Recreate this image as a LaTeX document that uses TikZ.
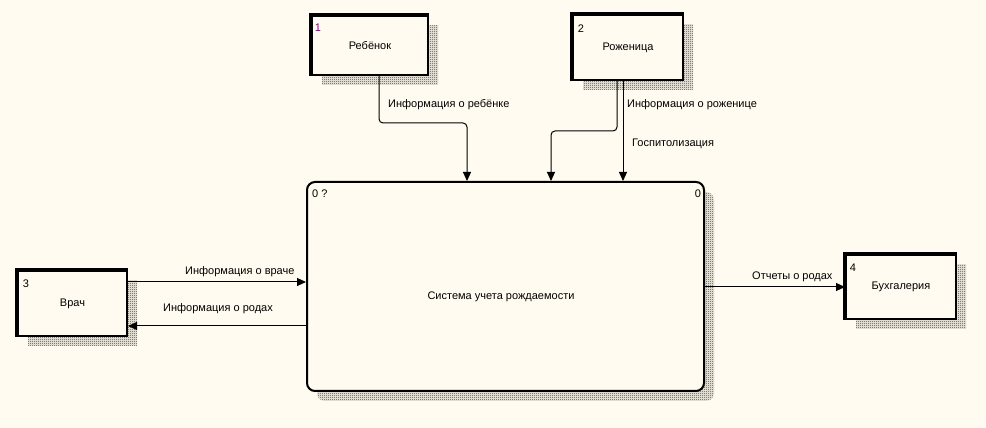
\documentclass[tikz,border=0pt]{standalone}
\usepackage{fontspec}
\setmainfont{Liberation Sans}
\usetikzlibrary{arrows.meta,shadows,patterns.meta}
\definecolor{paper}{RGB}{255,251,240}
\definecolor{numviolet}{RGB}{128,0,128}
\tikzdeclarepattern{name=dither, type=uncolored, bounding box={(0,0) and (2pt,2pt)},
  tile size={(2pt,2pt)}, code={\fill (0,0) rectangle (1pt,1pt); \fill (1pt,1pt) rectangle (2pt,2pt);}}
\tikzset{hatchshadow/.style={drop shadow={shadow xshift=10pt, shadow yshift=-10pt, fill=paper, opacity=1,
      pattern=dither, pattern color=black}},
  entity/.style={draw, line width=2pt, fill=paper, inner sep=0pt, font=\fontsize{11}{13}\selectfont, hatchshadow},
  process/.style={draw, line width=2pt, fill=paper, rounded corners=8pt, inner sep=0pt, hatchshadow},
  flow/.style={line width=1pt, -{Triangle[length=9pt,width=8pt]}},
  lbl/.style={inner sep=0pt, font=\fontsize{11}{13}\selectfont}}

\begin{document}
\begin{tikzpicture}[x=1pt, y=1pt]
  \fill[paper] (0,0) rectangle (986,428);
  \useasboundingbox (0,0) rectangle (986,428);
  % process
  \node [process, minimum width=397pt, minimum height=209pt] (sys) at (505.5,141.5) {};
  \node [lbl] (systitle) at (501,131) {Система учета рождаемости};
  \node [lbl, anchor=west] (sysid) at (312,234) {0 ?};
  \node [lbl] (sysnum) at (698,234) {0};
  % external entities
  \node [entity, minimum width=116pt, minimum height=59pt] (child) at (370,382.5) {Ребёнок};
  \node [entity, minimum width=110pt, minimum height=65pt] (mother) at (628,380.5) {Роженица};
  \node [entity, minimum width=109pt, minimum height=65pt] (doctor) at (72.5,124.5) {Врач};
  \node [entity, minimum width=110pt, minimum height=64pt] (acct) at (901,141) {Бухгалерия};
  \foreach \e in {child, mother, doctor, acct}
    \draw [line width=4pt] (\e.south west) |- (\e.north east);
  \node [lbl, text=numviolet] (childnum) at (318,400) {1};
  \node [lbl] (mothernum) at (581,399) {2};
  \node [lbl] (doctornum) at (26,144) {3};
  \node [lbl] (acctnum) at (853,160) {4};
  % flows
  \draw [flow, rounded corners=4pt] ([xshift=9pt]child.south) -- ++(0,-47) -| ([xshift=-38.5pt]sys.north);
  \draw [flow, rounded corners=4pt] ([xshift=-11pt]mother.south) -- ++(0,-50) -| ([xshift=45.5pt]sys.north);
  \draw [flow] ([xshift=-5pt]mother.south) -- ([xshift=117.5pt]sys.north);
  \coordinate (docin) at ([yshift=21.5pt]doctor.east);
  \coordinate (docout) at ([yshift=-22.5pt]doctor.east);
  \draw [flow] (docin) -- (docin -| sys.west);
  \draw [flow] (docout -| sys.west) -- (docout);
  \draw [flow] (acct.west -| sys.east) -- (acct.west);
  % flow labels
  \node [lbl, anchor=west] (childinfo) at (388,323) {Информация о ребёнке};
  \node [lbl, anchor=west] (motherinfo) at (627,323) {Информация о роженице};
  \node [lbl, anchor=west] (hosp) at (632,284) {Госпитолизация};
  \node [lbl, anchor=west] (docinfo) at (185,156) {Информация о враче};
  \node [lbl, anchor=west] (birthinfo) at (163,119) {Информация о родах};
  \node [lbl, anchor=west] (reports) at (752,151) {Отчеты о родах};
\end{tikzpicture}
\end{document}
